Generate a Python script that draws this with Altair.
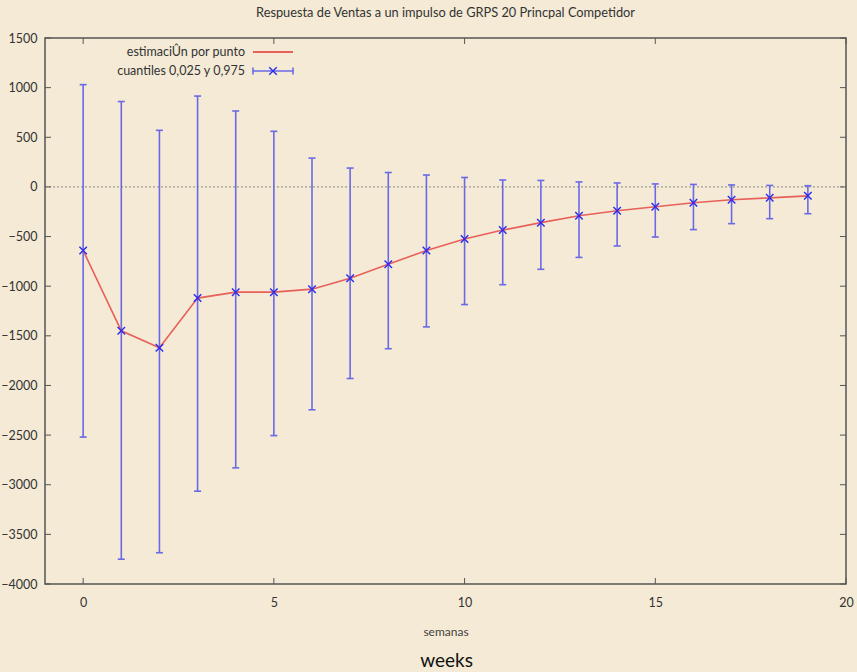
import altair as alt
import pandas as pd

# ---- data ----
semanas = list(range(20))
estimacion = [-640, -1450, -1620, -1120, -1060, -1060, -1030, -920, -780, -640,
              -525, -435, -360, -290, -240, -200, -160, -130, -110, -90]
q025 = [-2520, -3750, -3685, -3065, -2830, -2505, -2245, -1930, -1630, -1410,
        -1185, -985, -830, -710, -595, -505, -430, -370, -320, -270]
q975 = [1030, 860, 570, 915, 765, 560, 290, 190, 145, 120,
        95, 70, 65, 50, 40, 30, 25, 20, 15, 12]
x_ticks = [0, 5, 10, 15, 20]
y_ticks = list(range(-4000, 1501, 500))
legend_labels = ["estimaciÛn por punto", "cuantiles 0,025 y 0,975"]
title_text = "Respuesta de Ventas a un impulso de GRPS 20 Princpal Competidor"
x_title = "semanas"
caption = "weeks"

W, H = 801, 546
BG = "#F4EAD5"
FONT = "Lato"
BLUE = "#6A6AE6"
BLUE_DARK = "#2A2AF0"
RED = "#E8605A"
FRAME = "#555555"
FS = 12.5

df = pd.DataFrame({"x": semanas, "y": estimacion, "lo": q025, "hi": q975})
xt = pd.DataFrame({"x": x_ticks})
yt = pd.DataFrame({"y": y_ticks})

xs = alt.Scale(domain=[-1, 20], nice=False)
ys = alt.Scale(domain=[-4000, 1500], nice=False)

X = alt.X("x:Q", scale=xs,
          axis=alt.Axis(values=x_ticks, title=x_title, ticks=False, domain=False, grid=False,
                        labelFlush=False, labelPadding=12, labelFontSize=FS, labelFont=FONT,
                        labelColor="#333333",
                        titleFont=FONT, titleFontSize=12, titleFontWeight="normal",
                        titleColor="#444444", titlePadding=18))
Y = alt.Y("y:Q", scale=ys,
          axis=alt.Axis(values=y_ticks, title=None, ticks=False, domain=False, grid=False,
                        format="d", labelFlush=False,
                        labelPadding=8, labelFontSize=FS, labelFont=FONT,
                        labelColor="#333333"))

base = alt.Chart(df)

zero = alt.Chart(pd.DataFrame({"y": [0]})).mark_rule(
    color="#888888", strokeDash=[2, 2], strokeWidth=1).encode(
    y=Y, x=alt.value(0), x2=alt.value(W))

bars = base.mark_rule(color=BLUE, strokeWidth=1.6).encode(
    x=X, y=alt.Y("lo:Q", scale=ys), y2="hi:Q")

cap_lo = base.mark_point(shape="M-1,0L1,0", size=49, color=BLUE, strokeWidth=1.6,
                         filled=False, opacity=1).encode(
    x=alt.X("x:Q", scale=xs), y=alt.Y("lo:Q", scale=ys))
cap_hi = base.mark_point(shape="M-1,0L1,0", size=49, color=BLUE, strokeWidth=1.6,
                         filled=False, opacity=1).encode(
    x=alt.X("x:Q", scale=xs), y=alt.Y("hi:Q", scale=ys))

line = base.mark_line(color=RED, strokeWidth=1.6).encode(
    x=alt.X("x:Q", scale=xs), y=alt.Y("y:Q", scale=ys))

pts = base.mark_point(shape="M-1,-1L1,1M-1,1L1,-1", size=56, color=BLUE_DARK,
                      strokeWidth=1.4, filled=False, opacity=1).encode(
    x=alt.X("x:Q", scale=xs), y=alt.Y("y:Q", scale=ys))

# inward ticks on all four sides
tb = alt.Chart(xt).mark_rule(color=FRAME, strokeWidth=1).encode(
    x=alt.X("x:Q", scale=xs), y=alt.value(H), y2=alt.value(H - 6))
tt = alt.Chart(xt).mark_rule(color=FRAME, strokeWidth=1).encode(
    x=alt.X("x:Q", scale=xs), y=alt.value(0), y2=alt.value(6))
tl = alt.Chart(yt).mark_rule(color=FRAME, strokeWidth=1).encode(
    y=alt.Y("y:Q", scale=ys), x=alt.value(0), x2=alt.value(6))
tr = alt.Chart(yt).mark_rule(color=FRAME, strokeWidth=1).encode(
    y=alt.Y("y:Q", scale=ys), x=alt.value(W), x2=alt.value(W - 6))

# manual legend (labels left of samples, gnuplot style)
leg0 = pd.DataFrame({"label": [legend_labels[0]]})
leg1 = pd.DataFrame({"label": [legend_labels[1]]})
leg_text0 = alt.Chart(leg0).mark_text(align="right", baseline="middle", font=FONT,
                                      fontSize=FS, color="#333333").encode(
    text="label:N", x=alt.value(200), y=alt.value(14))
leg_text1 = alt.Chart(leg1).mark_text(align="right", baseline="middle", font=FONT,
                                      fontSize=FS, color="#333333").encode(
    text="label:N", x=alt.value(200), y=alt.value(33))
leg_red = alt.Chart(leg0).mark_rule(color=RED, strokeWidth=1.8).encode(
    x=alt.value(208), x2=alt.value(248), y=alt.value(14))
leg_blue = alt.Chart(leg1).mark_rule(color=BLUE, strokeWidth=1.6).encode(
    x=alt.value(208), x2=alt.value(248), y=alt.value(33))
leg_cap1 = alt.Chart(leg1).mark_point(shape="M0,-1L0,1", size=49, color=BLUE,
                                      strokeWidth=1.6, opacity=1).encode(
    x=alt.value(208), y=alt.value(33))
leg_cap2 = alt.Chart(leg1).mark_point(shape="M0,-1L0,1", size=49, color=BLUE,
                                      strokeWidth=1.6, opacity=1).encode(
    x=alt.value(248), y=alt.value(33))
leg_x = alt.Chart(leg1).mark_point(shape="M-1,-1L1,1M-1,1L1,-1", size=56,
                                   color=BLUE_DARK, strokeWidth=1.4,
                                   opacity=1).encode(
    x=alt.value(228), y=alt.value(33))

cap_df = pd.DataFrame({"t": [caption]})
cap = alt.Chart(cap_df).mark_text(font=FONT, fontSize=19, color="#111111",
                                  baseline="middle", align="center").encode(
    text="t:N", x=alt.value(W / 2 + 1), y=alt.value(H + 77))

chart = alt.layer(
    zero, bars, cap_lo, cap_hi, line, pts, tb, tt, tl, tr,
    leg_text0, leg_text1, leg_red, leg_blue, leg_cap1, leg_cap2, leg_x, cap
).properties(
    width=W, height=H,
    title=alt.TitleParams(title_text, font=FONT, fontSize=12.8, fontWeight="normal",
                          color="#333333", offset=12, anchor="middle"),
    background=BG,
    autosize=alt.AutoSizeParams(type="none"),
    padding={"left": 45, "top": 38, "right": 11, "bottom": 88},
).configure_view(stroke=FRAME, strokeWidth=1.5)

chart.save("out.html", embed_options={"renderer": "svg", "actions": False})
